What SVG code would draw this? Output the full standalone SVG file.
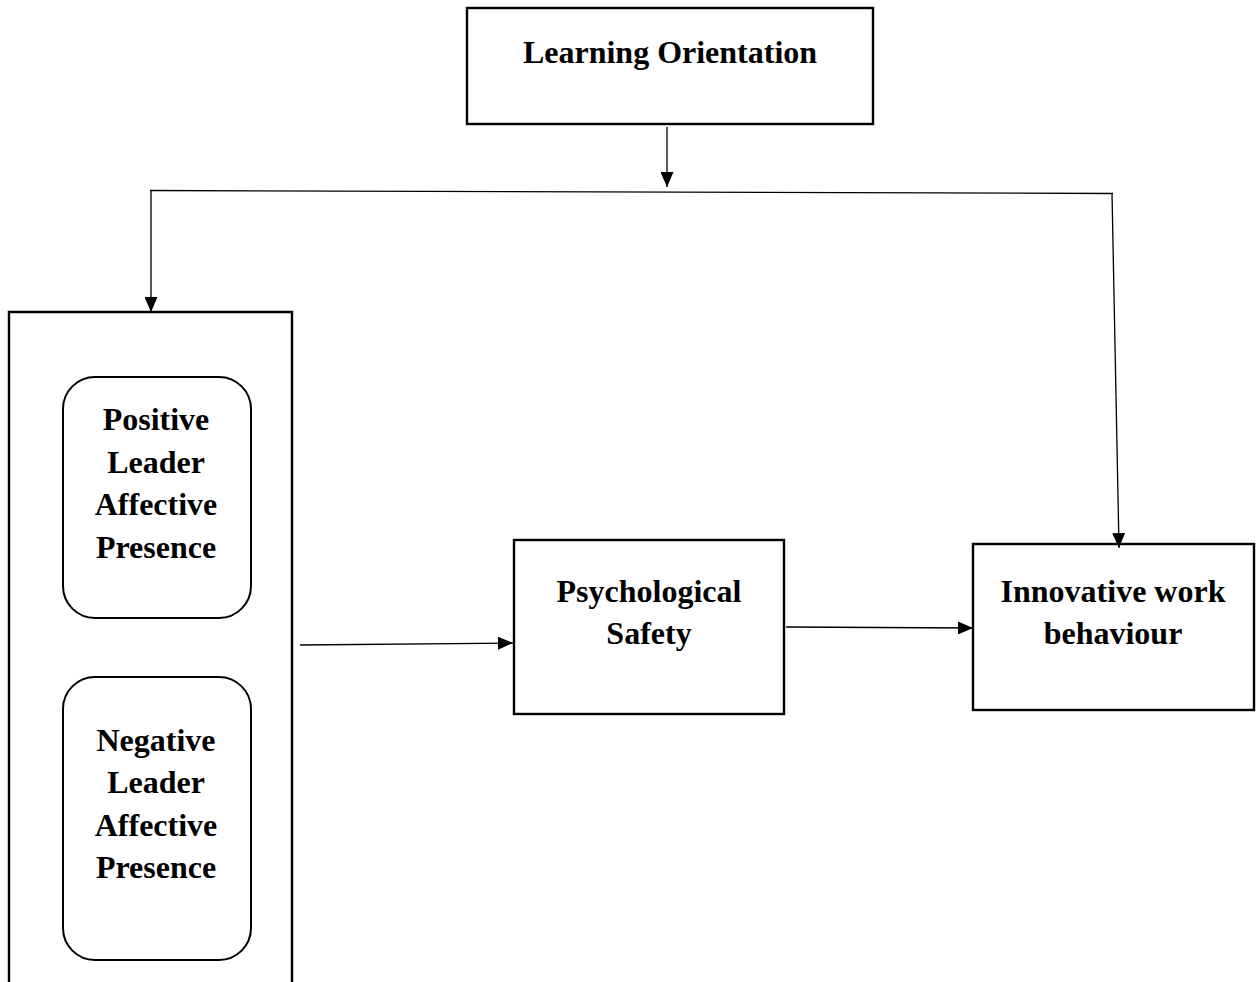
<svg xmlns="http://www.w3.org/2000/svg" width="1259" height="982" viewBox="0 0 1259 982">
<style>
.box{fill:#fff;stroke:#000;stroke-width:2.4}
.rbox{fill:#fff;stroke:#000;stroke-width:2}
.lbl{font-family:"Liberation Serif","Times New Roman",serif;font-weight:bold;font-size:32px;fill:#000;text-anchor:middle}
.con{fill:none;stroke:#000;stroke-width:1.3}
</style>
<defs>
<marker id="ah" markerUnits="userSpaceOnUse" markerWidth="16" markerHeight="13" refX="15" refY="6.5" orient="auto">
<path d="M0,0 L15,6.5 L0,13 z" fill="#000"/>
</marker>
</defs>
<rect width="1259" height="982" fill="#fff"/>
<g id="learning-orientation">
<rect class="box" x="467" y="8" width="406" height="116"/>
<text class="lbl" x="670" y="63">Learning Orientation</text>
</g>
<g id="leader-affective-presence">
<path class="box" d="M9,990 L9,312 L292,312 L292,990"/>
<g id="positive-lap">
<rect class="rbox" x="63" y="377" width="188" height="241" rx="32" ry="32"/>
<text class="lbl" x="156" y="430">Positive</text>
<text class="lbl" x="156" y="473">Leader</text>
<text class="lbl" x="156" y="515">Affective</text>
<text class="lbl" x="156" y="558">Presence</text>
</g>
<g id="negative-lap">
<rect class="rbox" x="63" y="677" width="188" height="283" rx="32" ry="32"/>
<text class="lbl" x="156" y="751">Negative</text>
<text class="lbl" x="156" y="793">Leader</text>
<text class="lbl" x="156" y="836">Affective</text>
<text class="lbl" x="156" y="878">Presence</text>
</g>
</g>
<g id="psychological-safety">
<rect class="box" x="514" y="540" width="270" height="174"/>
<text class="lbl" x="649" y="602">Psychological</text>
<text class="lbl" x="649" y="644">Safety</text>
</g>
<g id="innovative-work-behaviour">
<rect class="box" x="973" y="544" width="281" height="166"/>
<text class="lbl" x="1113" y="602">Innovative work</text>
<text class="lbl" x="1113" y="644">behaviour</text>
</g>
<g id="connectors">
<line class="con" x1="667" y1="127" x2="667" y2="187" marker-end="url(#ah)"/>
<line class="con" x1="150" y1="190.5" x2="1113" y2="193.5"/>
<line class="con" x1="151" y1="190.5" x2="151" y2="312" marker-end="url(#ah)"/>
<line class="con" x1="1112" y1="193" x2="1119" y2="548" marker-end="url(#ah)"/>
<line class="con" x1="300" y1="645" x2="513" y2="643" marker-end="url(#ah)"/>
<line class="con" x1="786" y1="627" x2="973" y2="628" marker-end="url(#ah)"/>
</g>
</svg>
